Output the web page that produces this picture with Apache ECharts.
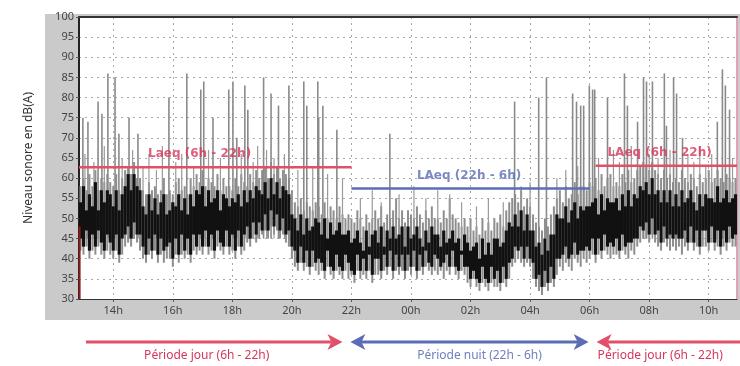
<!DOCTYPE html>
<html>
<head>
<meta charset="utf-8">
<script src="https://cdn.jsdelivr.net/npm/echarts@6/dist/echarts.min.js"></script>
<style>
  html, body { margin: 0; padding: 0; background: #fff; }
  #chart { width: 740px; height: 366px; }
</style>
</head>
<body>
<div id="chart"></div>
<script>
// sound level record, one slot every 6 minutes from 12:54 (hours past midnight of day 1)
const T0 = 12.9;
const STEP = 0.1;

// dense black core of the trace (low / high per slot), one row per hour
const blackLo = [
  45,43,47,42,46,43,47,44,42,46,
  44,42,46,41,45,46,48,45,49,46,
  46,43,41,45,42,46,41,45,42,43,
  44,40,45,41,46,42,45,41,46,43,
  46,43,47,43,46,42,47,44,43,47,
  43,46,42,47,43,46,48,45,49,46,
  49,47,51,47,52,48,51,47,50,46,
  47,43,42,39,43,39,42,38,42,39,
  40,39,37,42,38,37,41,38,37,41,
  39,37,36,41,37,40,37,41,36,40,
  40,37,41,38,42,37,41,38,41,37,
  41,38,42,37,41,38,42,39,38,41,
  40,38,39,41,38,42,38,37,41,38,
  38,35,37,35,34,38,35,34,38,35,
  37,34,38,35,39,40,43,42,43,40,
  43,40,39,35,36,33,37,34,38,35,
  40,40,41,43,40,41,44,41,42,42,
  43,42,45,41,45,42,46,43,44,43,
  45,42,46,43,44,44,45,45,48,47,
  49,46,50,46,47,44,48,45,46,45,
  46,45,45,47,44,48,44,47,43,47,
  47,44,48,44,47,43,47,44,48,45,
  46
];
const blackHi = [
  54,58,52,56,53,59,52,57,54,57,
  56,53,57,52,56,58,61,57,61,58,
  57,53,51,56,52,55,51,54,56,51,
  52,54,53,56,52,55,51,56,53,57,
  56,58,53,57,54,55,57,52,56,55,
  53,55,54,56,53,57,54,57,55,58,
  57,56,59,55,60,56,59,55,58,57,
  56,51,50,47,51,46,50,47,48,50,
  49,46,50,45,49,46,47,49,46,46,
  47,44,45,47,44,42,47,43,46,47,
  44,48,43,47,45,48,45,46,48,43,
  48,45,46,48,45,43,47,44,48,46,
  46,43,47,44,45,47,44,45,42,46,
  44,42,43,44,40,45,41,44,41,45,
  45,43,44,47,49,48,51,48,52,47,
  51,47,47,43,44,41,45,42,46,46,
  51,50,50,53,49,52,54,50,53,52,
  53,53,54,55,51,56,52,55,54,54,
  55,52,56,53,57,53,56,55,58,57,
  59,56,60,56,57,54,57,54,57,53,
  56,53,57,54,55,57,54,52,56,53,
  56,55,55,54,58,54,55,57,54,55,
  56
];

// lighter grey fringe around the core
const greyLo = [
  42,41,43,40,42,41,43,41,40,42,
  41,40,42,39,41,43,44,43,45,44,
  42,40,39,41,40,42,39,41,39,40,
  40,38,41,39,41,40,41,39,42,41,
  42,41,43,41,42,40,43,42,41,43,
  41,42,40,43,41,42,44,43,45,44,
  45,46,47,45,48,46,47,45,46,44,
  43,40,38,37,39,37,38,36,38,37,
  36,37,35,38,36,35,37,36,35,37,
  35,36,34,37,35,36,35,37,34,36,
  36,35,37,36,38,35,37,36,37,35,
  37,36,38,35,37,36,38,37,36,37,
  36,37,35,37,36,38,36,35,37,36,
  34,33,35,33,32,34,33,32,34,33,
  33,32,34,33,35,38,39,40,39,38,
  39,38,35,33,32,31,33,32,34,33,
  36,38,37,39,38,37,40,39,38,40,
  39,40,41,39,41,40,42,41,40,41,
  41,40,42,41,40,42,41,43,44,45,
  45,44,46,44,43,42,44,43,42,43,
  42,43,41,43,42,44,42,43,41,43,
  43,42,44,42,43,41,43,42,44,43,
  43
];
const greyHi = [
  58,60,57,61,58,62,57,60,59,61,
  59,58,61,57,60,62,63,61,64,60,
  60,57,56,59,57,58,56,57,60,56,
  57,56,59,60,57,58,56,60,58,61,
  59,62,58,60,59,58,61,57,60,58,
  58,57,60,58,61,59,58,61,59,62,
  60,62,63,60,64,61,63,60,62,61,
  60,57,54,53,55,52,54,53,52,54,
  53,51,54,50,53,52,50,53,51,50,
  51,50,49,52,50,48,51,49,50,52,
  50,53,49,51,50,52,55,50,52,49,
  52,51,50,53,51,49,52,50,53,50,
  50,49,52,50,55,51,50,49,48,50,
  48,50,47,48,46,50,47,49,47,50,
  49,51,48,52,54,55,56,54,57,53,
  55,53,51,49,48,47,50,48,51,53,
  55,57,54,58,55,56,59,56,58,58,
  57,59,58,60,57,61,58,60,61,58,
  59,58,61,59,62,59,60,62,63,64,
  63,62,64,62,61,60,62,60,61,59,
  60,59,62,60,59,61,60,58,61,59,
  60,62,59,60,62,60,59,61,60,59,
  60
];

// tall isolated events (hour, level dB)
const peakTimes = [
  12.98,13.15,13.49,13.62,13.82,14.06,14.19,14.53,14.83,15.87,16.47,16.94,17.04,17.35,
  17.88,18.02,18.15,18.42,18.52,19.05,19.3,19.55,19.9,20.4,20.5,20.87,20.9,21.04,21.51,
  23.29,27.48,28.29,28.55,29.43,29.56,29.7,29.8,29.99,30.1,30.17,
  30.6,31.17,31.27,31.61,31.81,31.91,32.11,32.51,32.58,32.82,32.92,33.12,34.29,34.46,34.56,34.7
];
const peakTops = [
  75,74,79,76,86,85,71,75,71,80,86,82,84,75,
  82,84,70,83,77,85,81,78,83,84,78,84,75,78,72,
  71,79,80,85,81,79,78,78,83,82,82,
  80,86,78,74,85,84,84,86,73,85,81,70,74,87,83,77
];
// smaller events
const smallTimes = [
  13.05,13.35,13.7,14.3,14.65,15.0,15.2,15.45,15.65,16.1,16.3,16.7,17.2,17.6,18.3,18.7,18.85,
  19.15,19.4,19.75,20.2,20.7,21.2,21.7,
  22.3,22.7,23.0,23.6,24.1,24.5,24.9,25.3,25.7,26.2,26.6,27.1,27.7,28.0,28.9,29.2,29.6,
  30.3,30.8,31.0,31.4,32.0,32.3,32.7,33.3,33.5,33.7,33.9,34.1,34.8
];
const smallTops = [
  66,64,68,65,67,63,66,62,68,64,66,63,67,65,66,64,68,
  67,65,66,62,63,61,60,
  55,57,54,56,58,55,57,56,54,53,55,54,58,59,60,62,63,
  65,67,64,68,66,65,67,66,64,68,63,66,65
];

// period averages
const laeqFrom  = [12.85, 22.0, 30.2];
const laeqTo    = [22.0, 30.0, 34.95];
const laeqValue = [62.7, 57.4, 63.1];
const laeqText  = ['Laeq (6h - 22h)', 'LAeq (22h - 6h)', 'LAeq (6h - 22h)'];
const laeqLabelAt = [16.9, 25.95, 32.35];

const tickHours = [14, 16, 18, 20, 22, 24, 26, 28, 30, 32, 34];
const periodText = ['Période jour (6h - 22h)', 'Période nuit (22h - 6h)', 'Période jour (6h - 22h)'];

const RED = '#e0506a';
const RED_TXT = '#d6365a';
const BLUE = '#5a6db5';
const BLUE_TXT = '#6f7fc0';

function bandSeries(lo, hi, color, width, z) {
  return {
    type: 'custom',
    z: z,
    silent: true,
    animation: false,
    encode: { x: 0, y: [1, 2] },
    data: lo.map((v, i) => [T0 + i * STEP, v, hi[i]]),
    renderItem: function (params, api) {
      const a = api.coord([api.value(0), api.value(1)]);
      const b = api.coord([api.value(0), api.value(2)]);
      const w = width || api.size([STEP, 0])[0] + 0.2;
      return {
        type: 'rect',
        shape: { x: a[0] - w / 2, y: b[1], width: w, height: a[1] - b[1] },
        style: { fill: color }
      };
    }
  };
}

function spikeSeries(times, tops, color, lw, z) {
  return {
    type: 'custom',
    z: z,
    silent: true,
    animation: false,
    encode: { x: 0, y: 1 },
    data: times.map((t, i) => [t, tops[i]]),
    renderItem: function (params, api) {
      const a = api.coord([api.value(0), 45]);
      const b = api.coord([api.value(0), api.value(1)]);
      return {
        type: 'line',
        shape: { x1: a[0], y1: a[1], x2: b[0], y2: b[1] },
        style: { stroke: color, lineWidth: lw }
      };
    }
  };
}

const chart = echarts.init(document.getElementById('chart'), null, { renderer: 'canvas' });

const levelColors = [RED, BLUE, RED];
const levelTextColors = [RED_TXT, BLUE, RED_TXT];

const series = [
  bandSeries(greyLo, greyHi, '#8e8e8e', 2, 2),
  spikeSeries(smallTimes, smallTops, '#9a9a9a', 1.2, 3),
  spikeSeries(peakTimes, peakTops, '#8a8a8a', 1.6, 3),
  bandSeries(blackLo, blackHi, '#111', 0, 4)
];
laeqValue.forEach((v, i) => {
  series.push({
    type: 'line',
    z: 6,
    silent: true,
    animation: false,
    symbol: 'none',
    lineStyle: { color: levelColors[i], width: 2.5 },
    data: [[laeqFrom[i], v], [laeqTo[i], v]]
  });
});
series.push({
  type: 'scatter',
  z: 7,
  silent: true,
  animation: false,
  symbolSize: 0,
  data: laeqValue.map((v, i) => ({
    value: [laeqLabelAt[i], v],
    label: {
      show: true,
      position: 'top',
      distance: 7,
      formatter: laeqText[i],
      color: levelTextColors[i],
      fontFamily: 'DejaVu Sans',
      fontWeight: 'bold',
      fontSize: 12
    }
  }))
});
// start-of-record marker on the left edge
series.push({
  type: 'line',
  z: 8,
  silent: true,
  animation: false,
  symbol: 'none',
  lineStyle: { color: '#8b1c1c', width: 2 },
  data: [[12.87, 30], [12.87, 48]]
});

chart.setOption({
  animation: false,
  grid: {
    left: 79, right: 3, top: 17, bottom: 67,
    show: true, backgroundColor: '#fff', borderWidth: 0
  },
  xAxis: [{
    type: 'value',
    min: 12.85,
    max: 34.95,
    axisLine: { show: true, lineStyle: { color: '#333', width: 1 } },
    axisTick: { show: true, length: 3, customValues: tickHours, lineStyle: { color: '#555' } },
    axisLabel: {
      customValues: tickHours,
      formatter: v => String(v % 24).padStart(2, '0') + 'h',
      color: '#444', fontFamily: 'Noto Sans', fontSize: 11, margin: 6
    },
    splitLine: { show: true, lineStyle: { color: '#a8a8a8', type: [2, 4], width: 1 } }
  }, {
    type: 'value',
    position: 'top',
    min: 12.85,
    max: 34.95,
    axisLine: { show: true, lineStyle: { color: '#333', width: 2 } },
    axisTick: { show: false },
    axisLabel: { show: false },
    splitLine: { show: false }
  }],
  yAxis: [{
    type: 'value',
    min: 30,
    max: 100,
    interval: 5,
    name: 'Niveau sonore en dB(A)',
    nameLocation: 'middle',
    nameRotate: 90,
    nameGap: 44,
    nameTextStyle: { color: '#333', fontFamily: 'Noto Sans', fontSize: 12 },
    axisLine: { show: true, lineStyle: { color: '#222', width: 2 } },
    axisTick: { show: true, length: 3, lineStyle: { color: '#555' } },
    axisLabel: { color: '#444', fontFamily: 'Noto Sans', fontSize: 11, margin: 5 },
    splitLine: { show: true, lineStyle: { color: '#a8a8a8', type: [2, 4], width: 1 } }
  }, {
    type: 'value',
    position: 'right',
    min: 30,
    max: 100,
    axisLine: { show: true, lineStyle: { color: '#e3a3b3', width: 2 } },
    axisTick: { show: false },
    axisLabel: { show: false },
    splitLine: { show: false }
  }],
  series: series
});

// period arrows under the axis, placed from the time scale
const px = h => chart.convertToPixel({ xAxisIndex: 0 }, h);
const x22 = px(22), x06 = px(30);
const ay = 342, ty = 356;
function head(tip, dir, color) {
  return {
    type: 'polygon',
    shape: { points: [[tip, ay], [tip - dir * 15, ay - 8], [tip - dir * 11, ay], [tip - dir * 15, ay + 8]] },
    style: { fill: color }
  };
}
function bar(x1, x2, color) {
  return { type: 'line', shape: { x1: x1, y1: ay, x2: x2, y2: ay }, style: { stroke: color, lineWidth: 3 } };
}
const textStyle = (x, text, color, align) => ({
  type: 'text',
  x: x, y: ty,
  style: { text: text, fill: color, font: '12px "Noto Sans"', align: align, verticalAlign: 'middle' }
});

chart.setOption({
  graphic: { elements: [
    { type: 'rect', z: -100, shape: { x: 45, y: 14, width: 695, height: 306 }, style: { fill: '#cacaca' } },
    bar(86, x22 - 20, RED),
    head(x22 - 9, 1, RED),
    bar(x22 + 8, x06 - 9, BLUE),
    head(x22 - 1, -1, BLUE),
    head(x06 - 1, 1, BLUE),
    bar(x06 + 18, 740, RED),
    head(x06 + 7, -1, RED),
    textStyle((86 + x22) / 2 - 12, periodText[0], RED_TXT, 'center'),
    textStyle((x22 + x06) / 2 + 9, periodText[1], BLUE_TXT, 'center'),
    textStyle(x06 + 8, periodText[2], RED_TXT, 'left')
  ] }
});
</script>
</body>
</html>
